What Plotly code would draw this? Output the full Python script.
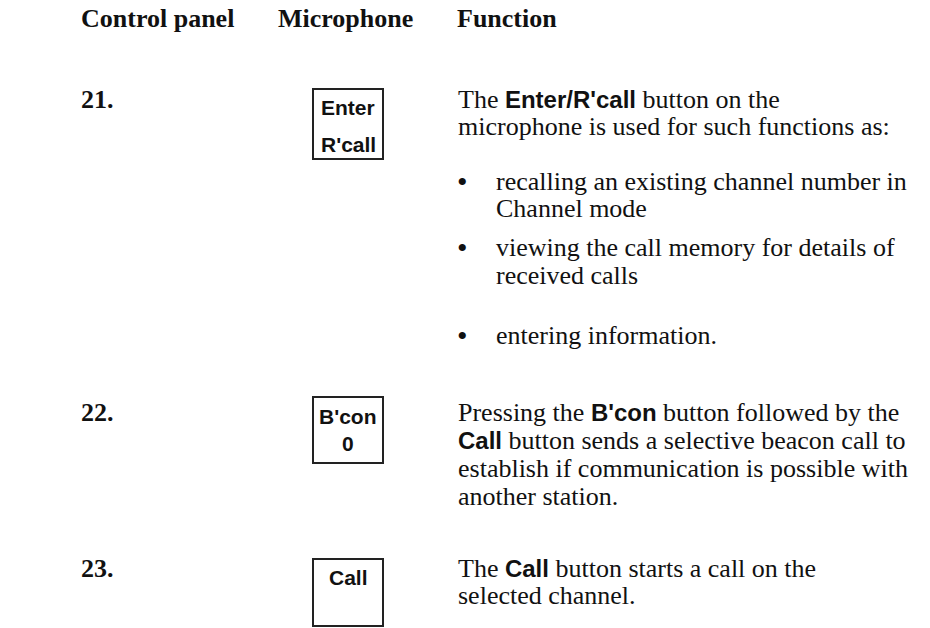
import re
import plotly.graph_objects as go

# ---------------- data ----------------
headings = ["Control panel", "Microphone", "Function"]
item_numbers = ["21.", "22.", "23."]
button_top_labels = ["Enter", "B'con", "Call"]
button_bottom_labels = ["R'call", "0", ""]

item1_intro = ["The {Enter/R'call} button on the",
               "microphone is used for such functions as:"]
item1_bullets = [["recalling an existing channel number in", "Channel mode"],
                 ["viewing the call memory for details of", "received calls"],
                 ["entering information."]]
item2_lines = ["Pressing the {B'con} button followed by the",
               "{Call} button sends a selective beacon call to",
               "establish if communication is possible with",
               "another station."]
item3_lines = ["The {Call} button starts a call on the",
               "selected channel."]

# ---------------- layout constants ----------------
W, H = 930, 628
SERIF = "'Liberation Serif', 'Times New Roman', serif"
SANS_CSS = "Liberation Sans, Arial, sans-serif"
SANS = "'Liberation Sans', Arial, sans-serif"
INK = "#111111"
FS = 26        # body size
FS_HEAD = 26
FS_SANS = 24
FS_KEY = 21

heading_x = [80, 277, 456]
heading_y = 18
num_x = 80
text_x = 457
bullet_x = 456
bullet_text_x = 495

item_num_y = [99, 412, 568]
item1_intro_y = [99, 126]
item1_bullet_y = [[181, 208], [247, 275], [335]]
item2_y = [412, 440, 468, 496]
item3_y = [568, 595]

box_x0, box_x1 = 313, 383
box_y = [(89, 159), (397, 463), (559, 626)]
box_label_y = [(107, 144), (416, 443), (577, None)]


def rich(s):
    return re.sub(r"\{(.+?)\}",
                  lambda m: f"<span style=\"font-family:{SANS_CSS};font-size:{FS_SANS}px\"><b>{m.group(1)}</b></span>",
                  s)


fig = go.Figure()
fig.add_trace(go.Scatter(x=[0, W], y=[0, H], mode="markers",
                         marker=dict(opacity=0), hoverinfo="skip", showlegend=False))

ann = []


def text(x, y, s, size=FS, family=SERIF, anchor="left"):
    ann.append(dict(x=x, y=y, xref="x", yref="y", text=s, showarrow=False,
                    xanchor=anchor, yanchor="middle", borderpad=0,
                    font=dict(family=family, size=size, color=INK)))


for hx, h in zip(heading_x, headings):
    text(hx, heading_y, f"<b>{h}</b>", size=FS_HEAD)

for n, y in zip(item_numbers, item_num_y):
    text(num_x, y, f"<b>{n}</b>", size=FS_HEAD)

for s, y in zip(item1_intro, item1_intro_y):
    text(text_x, y, rich(s))

for lines, ys in zip(item1_bullets, item1_bullet_y):
    text(bullet_x, ys[0], "•", size=30)
    for s, y in zip(lines, ys):
        text(bullet_text_x, y, rich(s))

for s, y in zip(item2_lines, item2_y):
    text(text_x, y, rich(s))
for s, y in zip(item3_lines, item3_y):
    text(text_x, y, rich(s))

shapes = []
cx = (box_x0 + box_x1) / 2
for (y0, y1), top, bot, (ly0, ly1) in zip(box_y, button_top_labels, button_bottom_labels, box_label_y):
    shapes.append(dict(type="rect", xref="x", yref="y", x0=box_x0, x1=box_x1, y0=y0, y1=y1,
                       line=dict(color="#222222", width=2), fillcolor="rgba(0,0,0,0)"))
    text(cx, ly0, f"<b>{top}</b>", size=FS_KEY, family=SANS, anchor="center")
    if bot and ly1 is not None:
        text(cx, ly1, f"<b>{bot}</b>", size=FS_KEY, family=SANS, anchor="center")

fig.update_layout(
    width=W, height=H, margin=dict(l=0, r=0, t=0, b=0),
    paper_bgcolor="white", plot_bgcolor="white",
    xaxis=dict(range=[0, W], visible=False, fixedrange=True),
    yaxis=dict(range=[H, 0], visible=False, fixedrange=True),
    annotations=ann, shapes=shapes, showlegend=False,
)

fig.write_html("out.html", config={"displayModeBar": False},
               post_script="document.body.style.margin='0px';")
